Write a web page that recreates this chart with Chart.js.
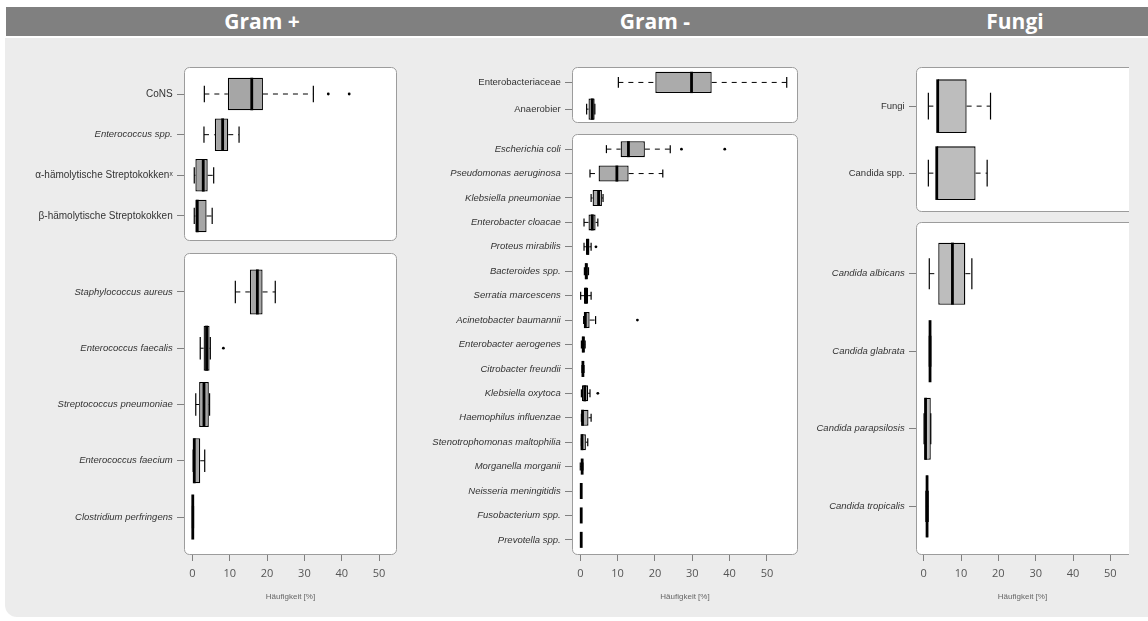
<!DOCTYPE html>
<html><head><meta charset="utf-8">
<script src="https://cdn.jsdelivr.net/npm/chart.js@4.4.1/dist/chart.umd.min.js"></script>
<style>
html,body{margin:0;padding:0;background:#fff;width:1148px;height:621px;overflow:hidden;position:relative;font-family:'Open Sans',sans-serif}
#bg{position:absolute;left:5px;top:38px;width:1143px;height:579px;background:#ececec;border-bottom-left-radius:12px}
#hdr{position:absolute;left:6px;top:7px;width:1142px;height:29px;background:#808080}
.h{position:absolute;top:7px;height:29px;line-height:29px;color:#fff;font-weight:bold;font-size:21px;transform:translateX(-50%);white-space:nowrap}
canvas{position:absolute}
</style></head>
<body>
<div id="bg"></div><div id="hdr"></div>
<div class="h" style="left:262px">Gram +</div>
<div class="h" style="left:655px">Gram -</div>
<div class="h" style="left:1015px">Fungi</div>
<script>
const xTicks = [0, 10, 20, 30, 40, 50];
const xTitle = 'Häufigkeit [%]';

// Gram + (upper panel)
const gpTopLabels = ['CoNS', 'Enterococcus spp.', 'α-hämolytische Streptokokkenˣ', 'β-hämolytische Streptokokken'];
const gpTopMin = [3.2, 3.1, 0.5, 0.5];
const gpTopQ1  = [9.5, 6.0, 0.8, 0.8];
const gpTopMed = [15.9, 8.1, 2.9, 1.3];
const gpTopQ3  = [18.9, 9.6, 4.1, 3.8];
const gpTopMax = [32.4, 12.5, 5.7, 5.3];
const gpTopOut = [[36.4, 42.0], [], [], []];

// Gram + (lower panel)
const gpBotLabels = ['Staphylococcus aureus', 'Enterococcus faecalis', 'Streptococcus pneumoniae', 'Enterococcus faecium', 'Clostridium perfringens'];
const gpBotMin = [11.5, 2.1, 0.9, 0.2, 0.0];
const gpBotQ1  = [15.4, 3.0, 1.8, 0.25, 0.05];
const gpBotMed = [17.4, 3.8, 3.1, 0.5, 0.1];
const gpBotQ3  = [18.8, 4.6, 4.4, 2.1, 0.2];
const gpBotMax = [22.2, 4.8, 4.6, 3.3, 0.3];
const gpBotOut = [[], [8.3], [], [], []];

// Gram - (upper panel)
const gnTopLabels = ['Enterobacteriaceae', 'Anaerobier'];
const gnTopMin = [10.2, 1.7];
const gnTopQ1  = [20.1, 2.2];
const gnTopMed = [29.8, 3.2];
const gnTopQ3  = [35.2, 3.85];
const gnTopMax = [55.3, 3.9];
const gnTopOut = [[], []];

// Gram - (lower panel)
const gnBotLabels = ['Escherichia coli', 'Pseudomonas aeruginosa', 'Klebsiella pneumoniae', 'Enterobacter cloacae', 'Proteus mirabilis', 'Bacteroides spp.', 'Serratia marcescens', 'Acinetobacter baumannii', 'Enterobacter aerogenes', 'Citrobacter freundii', 'Klebsiella oxytoca', 'Haemophilus influenzae', 'Stenotrophomonas maltophilia', 'Morganella morganii', 'Neisseria meningitidis', 'Fusobacterium spp.', 'Prevotella spp.'];
const gnBotMin = [7.0, 2.6, 2.9, 1.0, 1.0, 1.1, 0.1, 0.9, 0.3, 0.45, 0.3, 0.3, 0.3, 0.0, 0.2, 0.2, 0.2];
const gnBotQ1  = [10.8, 4.9, 3.3, 2.2, 1.5, 1.2, 1.0, 1.0, 0.4, 0.5, 0.45, 0.3, 0.3, 0.3, 0.22, 0.22, 0.22];
const gnBotMed = [12.9, 9.8, 4.9, 3.2, 2.0, 1.6, 1.5, 1.35, 0.8, 0.7, 1.2, 0.6, 0.45, 0.5, 0.25, 0.25, 0.25];
const gnBotQ3  = [17.3, 12.95, 5.8, 4.1, 2.4, 2.0, 2.1, 2.5, 1.2, 0.9, 2.1, 2.2, 1.5, 0.6, 0.3, 0.3, 0.3];
const gnBotMax = [24.1, 22.1, 6.1, 4.7, 2.9, 2.2, 2.9, 4.1, 1.3, 1.0, 2.6, 2.9, 2.0, 0.7, 0.3, 0.3, 0.3];
const gnBotOut = [[27.1, 38.7], [], [], [], [4.2], [], [], [15.3], [], [], [4.7], [], [], [], [], [], []];

// Fungi (upper panel)
const fuTopLabels = ['Fungi', 'Candida spp.'];
const fuTopMin = [1.25, 1.25];
const fuTopQ1  = [3.75, 3.5];
const fuTopMed = [3.75, 3.5];
const fuTopQ3  = [11.5, 13.9];
const fuTopMax = [17.9, 17.0];
const fuTopOut = [[], []];

// Fungi (lower panel)
const fuBotLabels = ['Candida albicans', 'Candida glabrata', 'Candida parapsilosis', 'Candida tropicalis'];
const fuBotMin = [1.5, 1.5, 0.1, 0.6];
const fuBotQ1  = [3.9, 1.6, 0.2, 0.7];
const fuBotMed = [7.7, 1.7, 0.5, 0.9];
const fuBotQ3  = [11.15, 1.8, 1.9, 1.1];
const fuBotMax = [12.9, 1.9, 1.9, 1.2];
const fuBotOut = [[], [], [], []];

const panels = [
  {id:'gpTop', left:0, top:67, width:397, height:174, axisW:184, xAxis:false, xMin:-2.25, xMax:54.81, yMin:0.336, yMax:4.615, box:0.8, fill:'#a6a6a6', italic:[false,true,false,false], fsize:10,
   labels:gpTopLabels, min:gpTopMin, q1:gpTopQ1, med:gpTopMed, q3:gpTopQ3, max:gpTopMax, out:gpTopOut},
  {id:'gpBot', left:0, top:253, width:397, height:368, axisW:184, xAxis:true, xMin:-2.25, xMax:54.81, yMin:0.308, yMax:5.675, box:0.8, fill:'#a6a6a6', italic:[true,true,true,true,true], fsize:9.5,
   labels:gpBotLabels, min:gpBotMin, q1:gpBotQ1, med:gpBotMed, q3:gpBotQ3, max:gpBotMax, out:gpBotOut},
  {id:'gnTop', left:400, top:67, width:398, height:56, axisW:172, xAxis:false, xMin:-2.22, xMax:58.32, yMin:0.422, yMax:2.52, box:0.8, fill:'#ababab', italic:[false,false], fsize:9.5,
   labels:gnTopLabels, min:gnTopMin, q1:gnTopQ1, med:gnTopMed, q3:gnTopQ3, max:gnTopMax, out:gnTopOut},
  {id:'gnBot', left:400, top:134, width:398, height:487, axisW:172, xAxis:true, xMin:-2.22, xMax:58.32, yMin:0.38, yMax:17.62, box:0.656, fill:'#ababab', italic:gnBotLabels.map(()=>true), fsize:9.5,
   labels:gnBotLabels, min:gnBotMin, q1:gnBotQ1, med:gnBotMed, q3:gnBotQ3, max:gnBotMax, out:gnBotOut},
  {id:'fuTop', left:790, top:67, width:339, height:145, axisW:126, xAxis:false, xMin:-2.06, xMax:54.99, yMin:0.416, yMax:2.58, box:0.8, fill:'#bdbdbd', italic:[false,false], openRight:true, fsize:9.5,
   labels:fuTopLabels, min:fuTopMin, q1:fuTopQ1, med:fuTopMed, q3:fuTopQ3, max:fuTopMax, out:fuTopOut},
  {id:'fuBot', left:790, top:222, width:339, height:399, axisW:126, xAxis:true, xMin:-2.06, xMax:54.99, yMin:0.334, yMax:4.627, box:0.8, fill:'#bdbdbd', italic:[true,true,true,true], openRight:true, fsize:9.5,
   labels:fuBotLabels, min:fuBotMin, q1:fuBotQ1, med:fuBotMed, q3:fuBotQ3, max:fuBotMax, out:fuBotOut}
];

const X_AXIS_H = 66;

function boxPlugin(p) {
  return {
    id: 'box_' + p.id,
    beforeDraw(chart) {
      const {ctx, chartArea: a} = chart;
      ctx.save();
      const L = a.left + 0.5, T = a.top + 0.5;
      const R = p.openRight ? a.right + 12 : a.right - 0.5, B = a.bottom - 0.5;
      ctx.beginPath();
      ctx.roundRect(L, T, R - L, B - T, 5);
      ctx.fillStyle = '#ffffff';
      ctx.fill();
      ctx.strokeStyle = '#9c9c9c';
      ctx.lineWidth = 1;
      ctx.stroke();
      ctx.restore();
    },
    afterDatasetsDraw(chart) {
      const {ctx, chartArea: a} = chart;
      const xs = chart.scales.x, ys = chart.scales.y;
      const px = v => xs.getPixelForValue(v);
      const seg = (x1, y1, x2, y2) => { ctx.beginPath(); ctx.moveTo(x1, y1); ctx.lineTo(x2, y2); ctx.stroke(); };
      ctx.save();
      ctx.beginPath(); ctx.rect(a.left, a.top, a.right - a.left, a.bottom - a.top); ctx.clip();
      ctx.strokeStyle = '#000';
      p.labels.forEach((_, i) => {
        const yc = ys.getPixelForValue(i + 1);
        const hb = Math.abs(ys.getPixelForValue(i + 1 + p.box / 2) - yc);
        const hc = hb / 2;
        ctx.lineWidth = 1;
        ctx.setLineDash([5, 5]);
        if (p.min[i] < p.q1[i]) seg(px(p.min[i]), yc, px(p.q1[i]), yc);
        if (p.max[i] > p.q3[i]) seg(px(p.q3[i]), yc, px(p.max[i]), yc);
        ctx.setLineDash([]);
        ctx.lineWidth = 1.2;
        seg(px(p.min[i]), yc - hc, px(p.min[i]), yc + hc);
        seg(px(p.max[i]), yc - hc, px(p.max[i]), yc + hc);
        ctx.lineWidth = 2.8;
        seg(px(p.med[i]), yc - hb, px(p.med[i]), yc + hb);
      });
      ctx.restore();
    }
  };
}

panels.forEach(p => {
  const cv = document.createElement('canvas');
  cv.id = p.id;
  cv.width = p.width; cv.height = p.height;
  cv.style.left = p.left + 'px'; cv.style.top = p.top + 'px';
  cv.style.width = p.width + 'px'; cv.style.height = p.height + 'px';
  document.body.appendChild(cv);

  const boxData = p.labels.map((_, i) => ({ y: i + 1, x: [p.q1[i], p.q3[i]] }));
  const outData = [];
  p.out.forEach((vals, i) => vals.forEach(v => outData.push({ x: v, y: i + 1 })));

  new Chart(cv, {
    type: 'bar',
    data: {
      datasets: [
        { type: 'bar', indexAxis: 'y', data: boxData, backgroundColor: p.fill, borderColor: '#000', borderWidth: 1.3, borderSkipped: false,
          barPercentage: p.box, categoryPercentage: 1, grouped: false },
        { type: 'scatter', data: outData, pointRadius: 1.4, pointHoverRadius: 1.4, pointBackgroundColor: '#000', pointBorderWidth: 0, showLine: false }
      ]
    },
    options: {
      indexAxis: 'y',
      responsive: false,
      animation: false,
      devicePixelRatio: 1,
      layout: { padding: 0, autoPadding: false },
      plugins: { legend: { display: false }, tooltip: { enabled: false } },
      scales: {
        x: {
          type: 'linear', position: 'bottom', display: p.xAxis, min: p.xMin, max: p.xMax, offset: false,
          afterBuildTicks: s => { s.ticks = xTicks.map(v => ({ value: v })); },
          afterFit: s => { s.height = p.xAxis ? X_AXIS_H : 0; s.paddingLeft = 0; s.paddingRight = 0; s.paddingTop = 0; s.paddingBottom = 0; },
          grid: { display: true, drawOnChartArea: false, drawTicks: true, tickLength: 6, tickColor: '#808080', tickWidth: 1, offset: false },
          border: { display: false },
          ticks: { padding: 6.4, color: '#555', font: { family: 'Open Sans', size: 11 }, autoSkip: false, maxRotation: 0 },
          title: { display: true, text: xTitle, color: '#666', font: { family: 'Liberation Sans', size: 8 }, padding: { top: 0, bottom: 19.5 } }
        },
        y: {
          type: 'linear', position: 'left', reverse: true, min: p.yMin, max: p.yMax, offset: false,
          afterBuildTicks: s => { s.ticks = p.labels.map((_, i) => ({ value: i + 1 })); },
          afterFit: s => { s.width = p.axisW; s.paddingLeft = 0; s.paddingRight = 0; s.paddingTop = 0; s.paddingBottom = 0; },
          grid: { display: true, drawOnChartArea: false, drawTicks: true, tickLength: 7, tickColor: '#808080', tickWidth: 1, offset: false },
          border: { display: false },
          ticks: {
            padding: 4.3, color: '#333', autoSkip: false,
            callback: v => p.labels[Math.round(v) - 1],
            font: ctx => ({ family: 'Liberation Sans', size: p.italic[ctx.index] ? 9.5 : p.fsize, style: p.italic[ctx.index] ? 'italic' : 'normal' })
          }
        }
      }
    },
    plugins: [boxPlugin(p)]
  });
});
</script>
</body></html>
